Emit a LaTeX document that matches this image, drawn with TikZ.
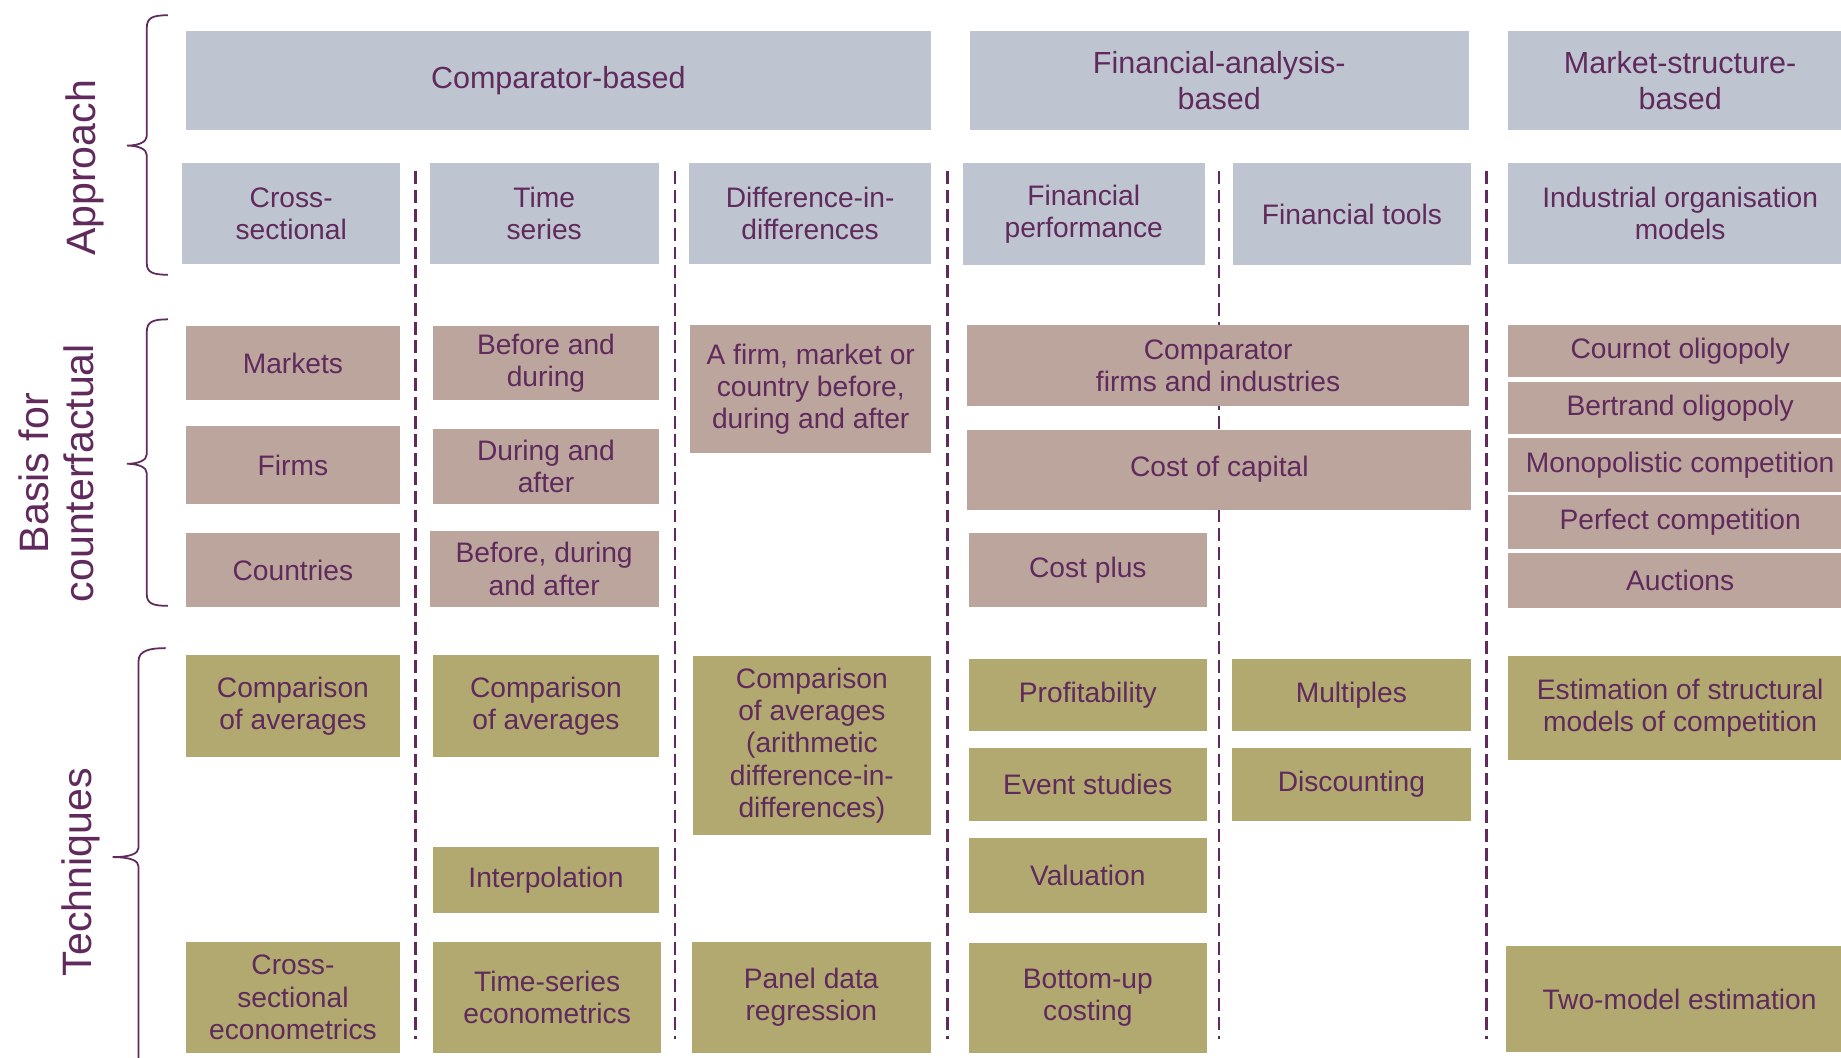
\documentclass[tikz,border=0pt]{standalone}
\usepackage{fontspec}
\setmainfont{Liberation Sans}
\definecolor{hdr}{RGB}{190,197,209}
\definecolor{mauve}{RGB}{187,165,157}
\definecolor{olive}{RGB}{177,169,112}
\definecolor{ink}{RGB}{96,42,92}
% #1 style, #2 x1, #3 y1, #4 x2, #5 y2, #6 name, #7 text
\newcommand\mkbox[7]{%
  \node[#1, minimum width={(#4)-(#2)}, minimum height={(#5)-(#3)}] (#6)
    at ({((#2)+(#4))/2},{((#3)+(#5))/2}) {#7};}
\begin{document}
\begin{tikzpicture}[x=1pt,y=-1pt,
  base/.style={inner sep=0pt, align=center, text=ink, font=\fontsize{24}{27.5}\selectfont},
  hbox/.style={base, fill=hdr},
  bbox/.style={base, fill=mauve},
  tbox/.style={base, fill=olive},
  topbox/.style={hbox, font=\fontsize{26}{31}\selectfont},
  sepline/.style={draw=ink, line width=2pt, dash pattern=on 11pt off 5pt},
  bracepath/.style={draw=ink, line width=1.5pt},
  side/.style={text=ink, font=\fontsize{35}{38}\selectfont, rotate=90, align=center, inner sep=0pt}]
\useasboundingbox (0,0) rectangle (1568,901);
\clip (0,0) rectangle (1568,901);
\fill[white] (0,0) rectangle (1568,901);

% separators
\foreach \x [count=\i] in {354,575,807,1038,1266} {
  \coordinate (s\i t) at (\x,146);
  \coordinate (s\i b) at (\x,885);
  \draw[sepline] (s\i t) -- (s\i b);
}

% braces
\draw[bracepath] (143,13) .. controls (130,13) and (125,15) .. (125,24) -- (125,116)
  .. controls (125,121) and (118,124) .. (108,124)
  .. controls (118,124) and (125,127) .. (125,132) -- (125,224)
  .. controls (125,232) and (130,234) .. (143,234);
\draw[bracepath] (143,272) .. controls (130,272) and (125,274) .. (125,283) -- (125,387)
  .. controls (125,392) and (118,395) .. (108,395)
  .. controls (118,395) and (125,398) .. (125,403) -- (125,506)
  .. controls (125,514) and (130,516) .. (143,516);
\draw[bracepath] (141,552) .. controls (128,552) and (118,554) .. (118,563) -- (118,722)
  .. controls (118,727) and (111,730) .. (96,730)
  .. controls (111,730) and (118,733) .. (118,738) -- (118,910);

% side labels
\node[side] (lapp) at (72,143) {Approach};
\node[side] (lbas) at (48,403) {Basis for\\counterfactual};
\node[side] (ltec) at (69,743) {Techniques};

% top headers
\mkbox{topbox}{158}{26}{793}{111}{cmp}{Comparator-based}
\mkbox{topbox}{826}{26}{1251}{111}{fin}{Financial-analysis-\\based}
\mkbox{topbox}{1284}{26}{1578}{111}{mkt}{Market-structure-\\based}

% approach row
\mkbox{hbox}{155}{139}{341}{225}{cs}{Cross-\\sectional}
\mkbox{hbox}{366}{139}{561}{225}{ts}{Time\\series}
\mkbox{hbox}{587}{139}{793}{225}{did}{Difference-in-\\differences}
\mkbox{hbox}{820}{139}{1026}{226}{fp}{Financial\\performance}
\mkbox{hbox}{1050}{139}{1253}{226}{ft}{Financial tools}
\mkbox{hbox}{1284}{139}{1578}{225}{io}{Industrial organisation\\models}

% basis row
\mkbox{bbox}{158}{278}{341}{341}{markets}{Markets}
\mkbox{bbox}{158}{363}{341}{429}{firms}{Firms}
\mkbox{bbox}{158}{454}{341}{517}{countries}{Countries}
\mkbox{bbox}{369}{278}{561}{341}{bad}{Before and\\during}
\mkbox{bbox}{369}{365}{561}{429}{daa}{During and\\after}
\mkbox{bbox}{366}{452}{561}{517}{bda}{Before, during\\and after}
\mkbox{bbox}{588}{277}{793}{386}{afirm}{A firm, market or\\country before,\\during and after}
\mkbox{bbox}{824}{277}{1251}{346}{cfi}{Comparator\\firms and industries}
\mkbox{bbox}{824}{366}{1253}{434}{coc}{Cost of capital}
\mkbox{bbox}{825}{454}{1028}{517}{cplus}{Cost plus}
\mkbox{bbox}{1284}{277}{1578}{321}{cournot}{Cournot oligopoly}
\mkbox{bbox}{1284}{325}{1578}{370}{bertrand}{Bertrand oligopoly}
\mkbox{bbox}{1284}{373}{1578}{419}{mono}{Monopolistic competition}
\mkbox{bbox}{1284}{422}{1578}{468}{perfect}{Perfect competition}
\mkbox{bbox}{1284}{471}{1578}{518}{auctions}{Auctions}

% techniques row
\mkbox{tbox}{158}{558}{341}{645}{ca1}{Comparison\\of averages}
\mkbox{tbox}{158}{802}{341}{897}{cse}{Cross-\\sectional\\econometrics}
\mkbox{tbox}{369}{558}{561}{645}{ca2}{Comparison\\of averages}
\mkbox{tbox}{369}{721}{561}{778}{interp}{Interpolation}
\mkbox{tbox}{369}{802}{563}{897}{tse}{Time-series\\econometrics}
\mkbox{tbox}{590}{559}{793}{711}{caa}{Comparison\\of averages\\(arithmetic\\difference-in-\\differences)}
\mkbox{tbox}{589}{802}{793}{897}{pdr}{Panel data\\regression}
\mkbox{tbox}{825}{561}{1028}{623}{prof}{Profitability}
\mkbox{tbox}{825}{637}{1028}{699}{event}{Event studies}
\mkbox{tbox}{825}{714}{1028}{778}{val}{Valuation}
\mkbox{tbox}{825}{803}{1028}{897}{bup}{Bottom-up\\costing}
\mkbox{tbox}{1049}{561}{1253}{623}{mult}{Multiples}
\mkbox{tbox}{1049}{637}{1253}{699}{disc}{Discounting}
\mkbox{tbox}{1284}{559}{1578}{647}{esm}{Estimation of structural\\models of competition}
\mkbox{tbox}{1283}{806}{1578}{896}{tme}{Two-model estimation}
\end{tikzpicture}
\end{document}
